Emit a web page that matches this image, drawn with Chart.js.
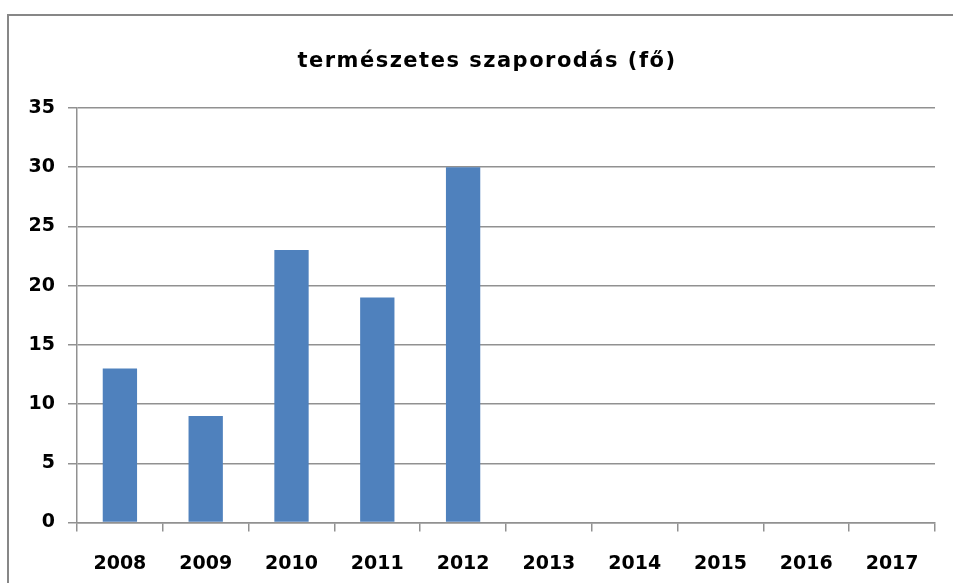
<!DOCTYPE html>
<html>
<head>
<meta charset="utf-8">
<script src="https://cdn.jsdelivr.net/npm/chart.js@4/dist/chart.umd.min.js"></script>
<style>
  html, body { margin: 0; padding: 0; background: #fff; overflow: hidden; }
  canvas { display: block; }
</style>
</head>
<body>
<canvas id="grafico" width="953" height="583"></canvas>
<script>
// adatok
const evek = ['2008', '2009', '2010', '2011', '2012', '2013', '2014', '2015', '2016', '2017'];
const szaporodas = [13, 9, 23, 19, 30, null, null, null, null, null];
const cim = 'természetes szaporodás (fő)';
const yMin = 0, yMax = 35, yLepes = 5;

const betu = 'DejaVu Sans, Verdana, sans-serif';
const racsSzin = '#919191';

// keret a diagram körül: csak a bal és a felső széle látszik
const keret = {
    id: 'keret',
    beforeDraw(chart) {
        const ctx = chart.ctx;
        ctx.save();
        ctx.strokeStyle = '#878787';
        ctx.lineWidth = 2;
        ctx.beginPath();
        ctx.moveTo(8, chart.height);
        ctx.lineTo(8, 15);
        ctx.lineTo(chart.width, 15);
        ctx.stroke();
        ctx.restore();
    }
};

// cím: kicsit szélesebb betűközzel
const cimRajz = {
    id: 'cimRajz',
    afterDraw(chart) {
        const ctx = chart.ctx;
        ctx.save();
        ctx.font = 'bold 21px ' + betu;
        ctx.fillStyle = '#000';
        ctx.textAlign = 'center';
        ctx.textBaseline = 'middle';
        if ('letterSpacing' in ctx) ctx.letterSpacing = '1.5px';
        ctx.fillText(cim, 487, 62);
        ctx.restore();
    }
};

new Chart(document.getElementById('grafico'), {
    type: 'bar',
    data: {
        labels: evek,
        datasets: [{
            label: cim,
            data: szaporodas,
            backgroundColor: '#4f81bd',
            borderWidth: 0,
            categoryPercentage: 1,
            barPercentage: 0.4
        }]
    },
    options: {
        responsive: false,
        animation: false,
        layout: { padding: { left: 0, right: 18, top: 108, bottom: 0 } },
        plugins: {
            legend: { display: false },
            tooltip: { enabled: false },
            title: { display: false }
        },
        scales: {
            x: {
                grid: {
                    display: true,
                    drawOnChartArea: false,
                    drawTicks: true,
                    tickLength: 9,
                    color: racsSzin,
                    lineWidth: 1.5
                },
                border: { display: true, color: racsSzin, width: 1.5 },
                ticks: {
                    color: '#000',
                    font: { family: betu, size: 19, weight: 'bold' },
                    padding: 21,
                    maxRotation: 0
                },
                afterFit(scale) { scale.height = 60.5; }
            },
            y: {
                min: yMin,
                max: yMax,
                ticks: {
                    stepSize: yLepes,
                    color: '#000',
                    font: { family: betu, size: 19, weight: 'bold' },
                    padding: 13
                },
                grid: {
                    color: racsSzin,
                    lineWidth: 1.5,
                    tickLength: 9
                },
                border: { display: true, color: racsSzin, width: 1.5 },
                afterFit(scale) { scale.width = 77; }
            }
        }
    },
    plugins: [keret, cimRajz]
});
</script>
</body>
</html>
